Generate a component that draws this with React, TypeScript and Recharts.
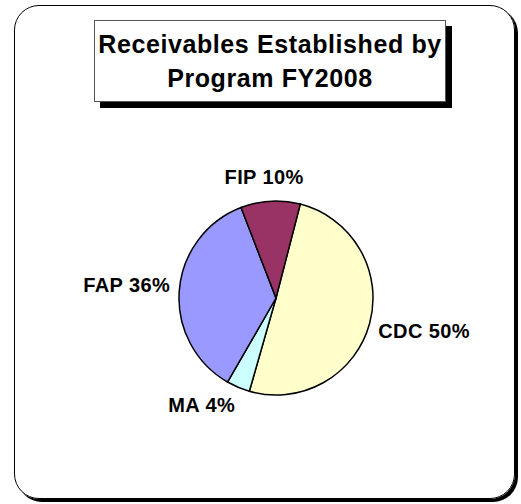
import { PieChart, Pie, Cell } from "recharts";

const programs = ["CDC", "MA", "FAP", "FIP"];
const shares = [50.4, 3.9, 35.8, 9.9];
const colors = ["#FFFFCC", "#CCFFFF", "#9999FF", "#993366"];

const titleLines = ["Receivables Established by", "Program FY2008"];

const FONT = '"Liberation Sans", Arial, sans-serif';
const LABEL_SIZE = 20;
const LABEL_SPACING = 0.4;
const RAD = Math.PI / 180;

const data = programs.map((name, i) => ({ name, value: shares[i] }));

let ctx: CanvasRenderingContext2D | null = null;
function textWidth(text: string) {
    if (!ctx) ctx = document.createElement("canvas").getContext("2d");
    if (!ctx) return text.length * LABEL_SIZE * 0.6;
    ctx.font = `bold ${LABEL_SIZE}px ${FONT}`;
    return ctx.measureText(text).width + LABEL_SPACING * text.length;
}

const clamp = (v: number) => Math.max(-1, Math.min(1, v));

// Excel-like "outside end" label: box pushed outward from the radial point
function renderLabel(p: any) {
    const r = p.outerRadius + 9;
    const c = Math.cos(-p.midAngle * RAD);
    const s = Math.sin(-p.midAngle * RAD);
    const px = p.cx + r * c;
    const py = p.cy + r * s;
    const text = `${p.name} ${Math.round(p.percent * 100)}%`;
    const w = textWidth(text);
    const x = px + (clamp(c * 2.5) * w) / 2;
    const y = py + (clamp(s * 2.5) * 24) / 2 - 3;
    return (
        <text
            x={x}
            y={y}
            textAnchor="middle"
            dominantBaseline="central"
            fontFamily={FONT}
            fontWeight="bold"
            fontSize={LABEL_SIZE}
            letterSpacing={LABEL_SPACING}
            fill="#000"
        >
            {text}
        </text>
    );
}

export default function App() {
    return (
        <div style={{ position: "absolute", left: 0, top: 0, width: 521, height: 504, background: "#fff" }}>
            <div
                style={{
                    position: "absolute",
                    left: 14,
                    top: 5,
                    width: 499,
                    height: 492,
                    border: "1.5px solid #000",
                    borderRadius: 25,
                    boxShadow: "3px 3px 0 #000",
                }}
            />
            <div
                style={{
                    position: "absolute",
                    left: 94,
                    top: 20,
                    width: 352,
                    height: 82,
                    border: "1px solid #555",
                    boxShadow: "6px 6px 0 #000",
                    background: "#fff",
                    fontFamily: FONT,
                    fontWeight: "bold",
                    fontSize: 25,
                    letterSpacing: 0.6,
                    textAlign: "center",
                    lineHeight: "34px",
                    paddingTop: 6,
                    boxSizing: "border-box",
                }}
            >
                {titleLines.map((t) => (
                    <div key={t}>{t}</div>
                ))}
            </div>
            <div style={{ position: "absolute", left: 0, top: 0 }}>
                <PieChart width={521} height={504}>
                    <Pie
                        data={data}
                        dataKey="value"
                        nameKey="name"
                        cx={271}
                        cy={293}
                        outerRadius={97}
                        startAngle={75.5}
                        endAngle={-284.5}
                        stroke="#000"
                        strokeWidth={1.5}
                        label={renderLabel}
                        labelLine={false}
                        isAnimationActive={false}
                    >
                        {data.map((d, i) => (
                            <Cell key={d.name} fill={colors[i]} />
                        ))}
                    </Pie>
                </PieChart>
            </div>
        </div>
    );
}
